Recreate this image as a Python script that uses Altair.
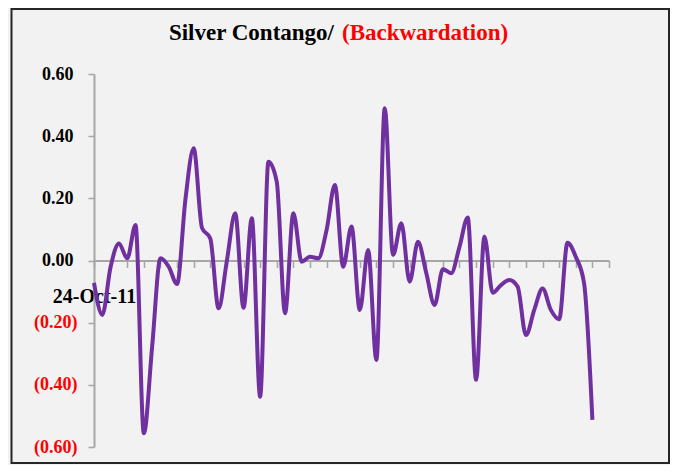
import altair as alt
import pandas as pd

first_date = "24-Oct-11"
title_black = "Silver Contango/"
title_red = "(Backwardation)"

values = [
    -0.072, -0.175, -0.02, 0.055, 0.007, 0.114, -0.556, -0.277, 0.007, -0.02,
    -0.076, 0.195, 0.361, 0.105, 0.071, -0.154, 0.0, 0.152, -0.152, 0.136,
    -0.438, 0.318, 0.254, -0.17, 0.152, -0.004, 0.012, 0.007, 0.098, 0.243,
    -0.02, 0.109, -0.159, 0.034, -0.32, 0.49, 0.018, 0.12, -0.068, 0.06,
    -0.04, -0.143, -0.028, -0.041, 0.044, 0.138, -0.384, 0.077, -0.104, -0.079,
    -0.063, -0.084, -0.24, -0.159, -0.09, -0.159, -0.189, 0.057, 0.012, -0.073,
    -0.513,
]
idx = list(range(len(values)))
y_ticks = [-0.6, -0.4, -0.2, 0.0, 0.2, 0.4, 0.6]
x_ticks = list(range(0, 63, 2))

FONT = "Liberation Serif"
AXIS_GRAY = "#a6a6a6"

df = pd.DataFrame({"i": idx, "v": values})

line = alt.Chart(df).mark_line(
    color="#7030A0", strokeWidth=4, interpolate="monotone"
).encode(
    x=alt.X(
        "i:Q",
        scale=alt.Scale(domain=[0, 62], nice=False, zero=False),
        axis=alt.Axis(
            values=x_ticks,
            offset=-186.5,
            title=None,
            grid=False,
            domainColor=AXIS_GRAY,
            domainWidth=2,
            tickColor=AXIS_GRAY,
            tickWidth=1.5,
            tickSize=7,
            labelExpr=f"datum.value == 0 ? '{first_date}' : ''",
            labelFont=FONT,
            labelFontWeight="bold",
            labelFontSize=20,
            labelColor="black",
            labelPadding=19,
            labelFlush=False,
            labelOverlap=False,
            labelBound=False,
            labelAlign="center",
            labelBaseline="top",
        ),
    ),
    y=alt.Y(
        "v:Q",
        scale=alt.Scale(domain=[-0.6, 0.6], nice=False, zero=False),
        axis=alt.Axis(
            values=y_ticks,
            title=None,
            grid=False,
            domainColor=AXIS_GRAY,
            domainWidth=2,
            tickColor=AXIS_GRAY,
            tickWidth=1.5,
            tickSize=6,
            labelExpr="datum.value < 0 ? '(' + format(-datum.value, '.2f') + ')' : format(datum.value, '.2f')",
            labelFont=FONT,
            labelFontWeight="bold",
            labelFontSize=18,
            labelColor=alt.condition("datum.value < 0", alt.value("#ff0000"), alt.value("black")),
            labelPadding=alt.condition("datum.value < 0", alt.value(11), alt.value(15)),
            labelBaseline="middle",
        ),
    ),
)

frame = alt.Chart(pd.DataFrame({"k": [0]})).mark_rect(
    fillOpacity=0, stroke="#262626", strokeWidth=2
).encode(
    x=alt.value(-82.5), x2=alt.value(575), y=alt.value(-65), y2=alt.value(389)
)

t_black = alt.Chart(pd.DataFrame({"t": [title_black]})).mark_text(
    font=FONT, fontWeight="bold", fontSize=23, color="black",
    align="right", baseline="alphabetic"
).encode(text="t:N", x=alt.value(240), y=alt.value(-34))

t_red = alt.Chart(pd.DataFrame({"t": [title_red]})).mark_text(
    font=FONT, fontWeight="bold", fontSize=23, color="#ff0000",
    align="left", baseline="alphabetic"
).encode(text="t:N", x=alt.value(248), y=alt.value(-34))

chart = alt.layer(frame, line, t_black, t_red).properties(
    width=515,
    height=373,
    padding={"left": 86, "top": 66, "right": 61, "bottom": 18},
    autosize=alt.AutoSizeParams(type="none"),
    background="#f2f2f2",
).configure_view(stroke=None)

chart.save("out.html", embed_options={"renderer": "svg", "actions": False})
